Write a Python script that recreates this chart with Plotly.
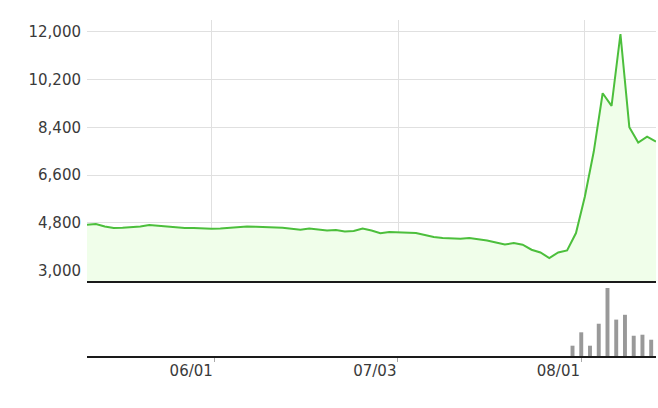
import plotly.graph_objects as go

# trading days (category axis)
dates = ["05/12", "05/15", "05/16", "05/17", "05/18", "05/19", "05/22", "05/23", "05/24", "05/25",
         "05/26", "05/29", "05/30", "05/31", "06/01", "06/02", "06/05", "06/07", "06/08", "06/09",
         "06/12", "06/13", "06/14", "06/15", "06/16", "06/19", "06/20", "06/21", "06/22", "06/23",
         "06/26", "06/27", "06/28", "06/29", "06/30", "07/03", "07/04", "07/05", "07/06", "07/07",
         "07/10", "07/11", "07/12", "07/13", "07/14", "07/17", "07/18", "07/19", "07/20", "07/21",
         "07/24", "07/25", "07/26", "07/27", "07/28", "07/31", "08/01", "08/02", "08/03", "08/04",
         "08/07", "08/08", "08/09", "08/10", "08/11"]

price = [4730, 4756, 4666, 4606, 4617, 4628, 4666, 4719, 4692, 4655,
         4617, 4606, 4606, 4591, 4580, 4591, 4617, 4655, 4666, 4655,
         4643, 4643, 4617, 4580, 4542, 4591, 4553, 4516, 4531, 4478,
         4493, 4591, 4516, 4410, 4456, 4440, 4418, 4418, 4343, 4267,
         4230, 4215, 4203, 4230, 4192, 4140, 4060, 3985, 4042, 3980,
         3790, 3689, 3478, 3689, 3764, 4418, 5794, 7487, 9683, 9206,
         11913, 8405, 7825, 8051, 7863]

# volume only shows up for the last ten sessions
volume = [None] * 55 + [150, 345, 150, 470, 990, 530, 600, 295, 310, 237]

ytick_vals = [3000, 4800, 6600, 8400, 10200, 12000]
xtick_vals = ["06/01", "07/03", "08/01"]

font = dict(family="DejaVu Sans", size=15, color="#3a3a3a")

fig = go.Figure()

fig.add_trace(
    go.Scatter(
        x=dates,
        y=price,
        mode="lines",
        line=dict(color="#4cbf3c", width=2),
        fill="tozeroy",
        fillcolor="#f0feea",
        xaxis="x",
        yaxis="y",
        showlegend=False,
    )
)

fig.add_trace(
    go.Bar(
        x=dates,
        y=volume,
        marker=dict(color="#999999", line=dict(width=0)),
        width=0.45,
        xaxis="x2",
        yaxis="y2",
        showlegend=False,
    )
)

fig.update_layout(
    width=658,
    height=408,
    margin=dict(l=87, r=2, t=20, b=52, autoexpand=False),
    paper_bgcolor="white",
    plot_bgcolor="white",
    font=font,
    xaxis=dict(
        type="category",
        domain=[0, 1],
        anchor="y",
        range=[0, 64],
        tickvals=xtick_vals,
        showticklabels=False,
        showgrid=True,
        gridcolor="#e0e0e0",
        gridwidth=1,
        showline=True,
        linecolor="#1a1a1a",
        linewidth=1.5,
        ticks="",
        zeroline=False,
    ),
    yaxis=dict(
        domain=[0.2232, 1],
        anchor="x",
        range=[2613, 12440],
        tickvals=ytick_vals,
        tickformat=",",
        showgrid=True,
        gridcolor="#e0e0e0",
        gridwidth=1,
        zeroline=False,
        showline=False,
        ticks="outside",
        ticklen=2,
        tickcolor="rgba(0,0,0,0)",
    ),
    xaxis2=dict(
        type="category",
        domain=[0, 1],
        anchor="y2",
        range=[-0.54, 64.55],
        tickvals=xtick_vals,
        ticktext=xtick_vals,
        ticklabelposition="outside left",
        showgrid=False,
        showline=True,
        linecolor="#1a1a1a",
        linewidth=1.5,
        ticks="outside",
        ticklen=4,
        tickcolor="#aaaaaa",
        zeroline=False,
    ),
    yaxis2=dict(
        domain=[0, 0.2232],
        anchor="x2",
        range=[0, 1092],
        showticklabels=False,
        showgrid=False,
        zeroline=False,
        showline=False,
    ),
    bargap=0.5,
)

# drop the default page margin so the figure sits at the window's corner
fig.write_html(
    "out.html",
    config={"displayModeBar": False},
    post_script="document.body.style.margin='0';document.body.style.overflow='hidden';",
)
